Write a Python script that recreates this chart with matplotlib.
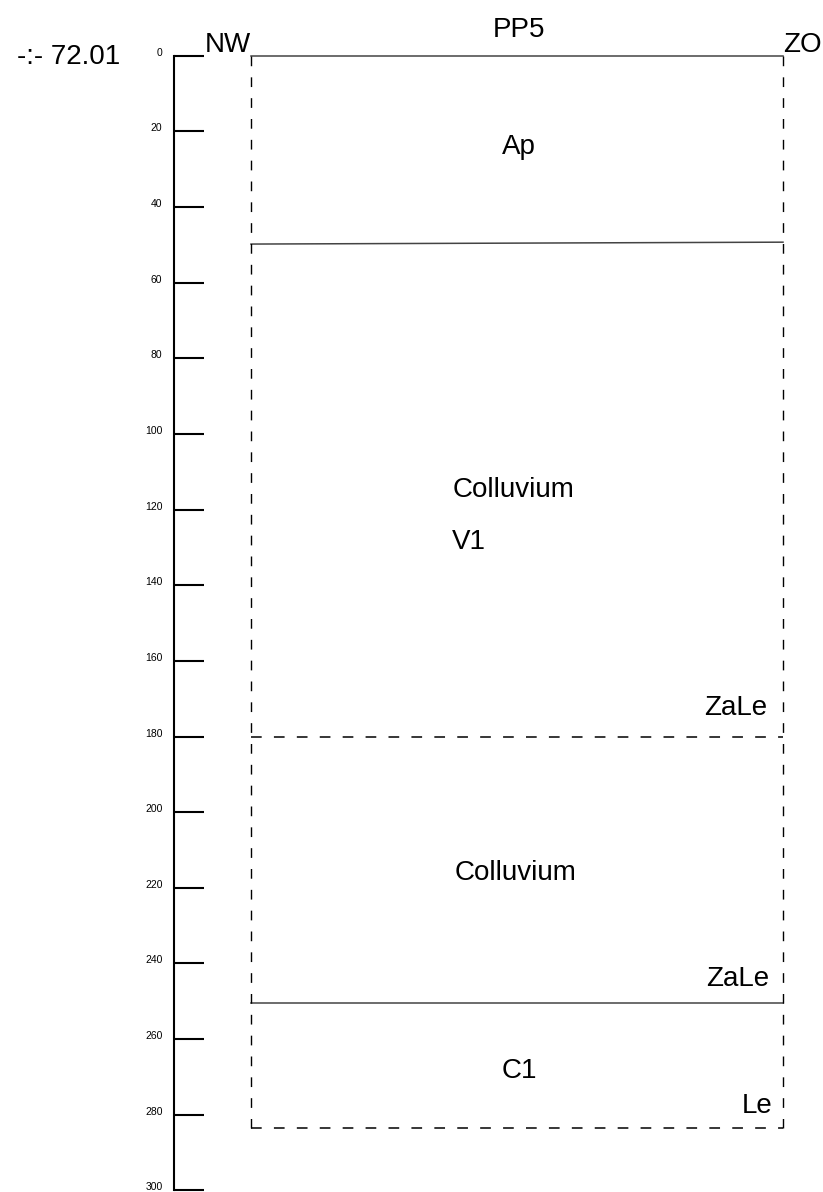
import matplotlib.pyplot as plt

plt.rcParams['font.family'] = ['Liberation Sans', 'DejaVu Sans']

# depth scale (cm)
ticks = list(range(0, 301, 20))

# profile box (horizontal position in px, depth in cm)
box_left = 251
box_right = 783
box_bottom = 283.5

# horizon boundaries: (depth at left, depth at right, style)
bounds = [
    (0, 0, 'solid'),
    (49.8, 49.3, 'solid'),
    (180, 180, 'dashed'),
    (250.5, 250.5, 'solid'),
    (283.5, 283.5, 'dashed'),
]

# labels: text, x, depth (baseline), alignment
labels = [
    ('Ap', 519, 26.0, 'center'),
    ('Colluvium', 514, 116.7, 'center'),
    ('V1', 452, 130.4, 'left'),
    ('ZaLe', 767, 174.3, 'right'),
    ('Colluvium', 516, 217.9, 'center'),
    ('ZaLe', 769, 246.0, 'right'),
    ('C1', 519, 270.3, 'center'),
    ('Le', 772, 279.6, 'right'),
]

W, H = 823, 1192
fig = plt.figure(figsize=(W / 100, H / 100), dpi=100)
x0 = 174.3
ax = fig.add_axes([x0 / W, 1.6 / H, (W - x0) / W, (1136.3 - 1.6) / H])
ax.set_xlim(x0, W)
ax.set_ylim(300, 0)
for s in ['top', 'right', 'bottom']:
    ax.spines[s].set_visible(False)
ax.spines['left'].set_linewidth(1.5)
ax.set_xticks([])
ax.set_yticks(ticks)
ax.tick_params(axis='y', direction='in', length=21.5, width=1.5, pad=8.5, labelsize=7.5)
# labels sit just above their tick, as in the scanned profile
for lab in ax.get_yticklabels():
    lab.set_verticalalignment('baseline')

dash = (0, (7, 8))
for d_left, d_right, style in bounds:
    ls = '-' if style == 'solid' else dash
    col = '#444444' if style == 'solid' else 'black'
    ax.plot([box_left, box_right], [d_left, d_right], color=col, lw=1.1, linestyle=ls, clip_on=False)

ax.plot([box_left, box_left], [0, box_bottom], color='black', lw=1, linestyle=dash)
ax.plot([box_right, box_right], [0, box_bottom], color='black', lw=1, linestyle=dash)

for text, x, d, ha in labels:
    ax.text(x, d, text, ha=ha, va='baseline', fontsize=20)

ax.text(519, -4.9, 'PP5', ha='center', va='baseline', fontsize=20, clip_on=False)
ax.text(box_left, -1.0, 'NW', ha='right', va='baseline', fontsize=20, clip_on=False)
ax.text(box_right, -1.0, 'ZO', ha='left', va='baseline', fontsize=20, clip_on=False)
ax.text(17, 2.2, '-:- 72.01', ha='left', va='baseline', fontsize=20, clip_on=False)

fig.savefig('out.png', dpi=100)
